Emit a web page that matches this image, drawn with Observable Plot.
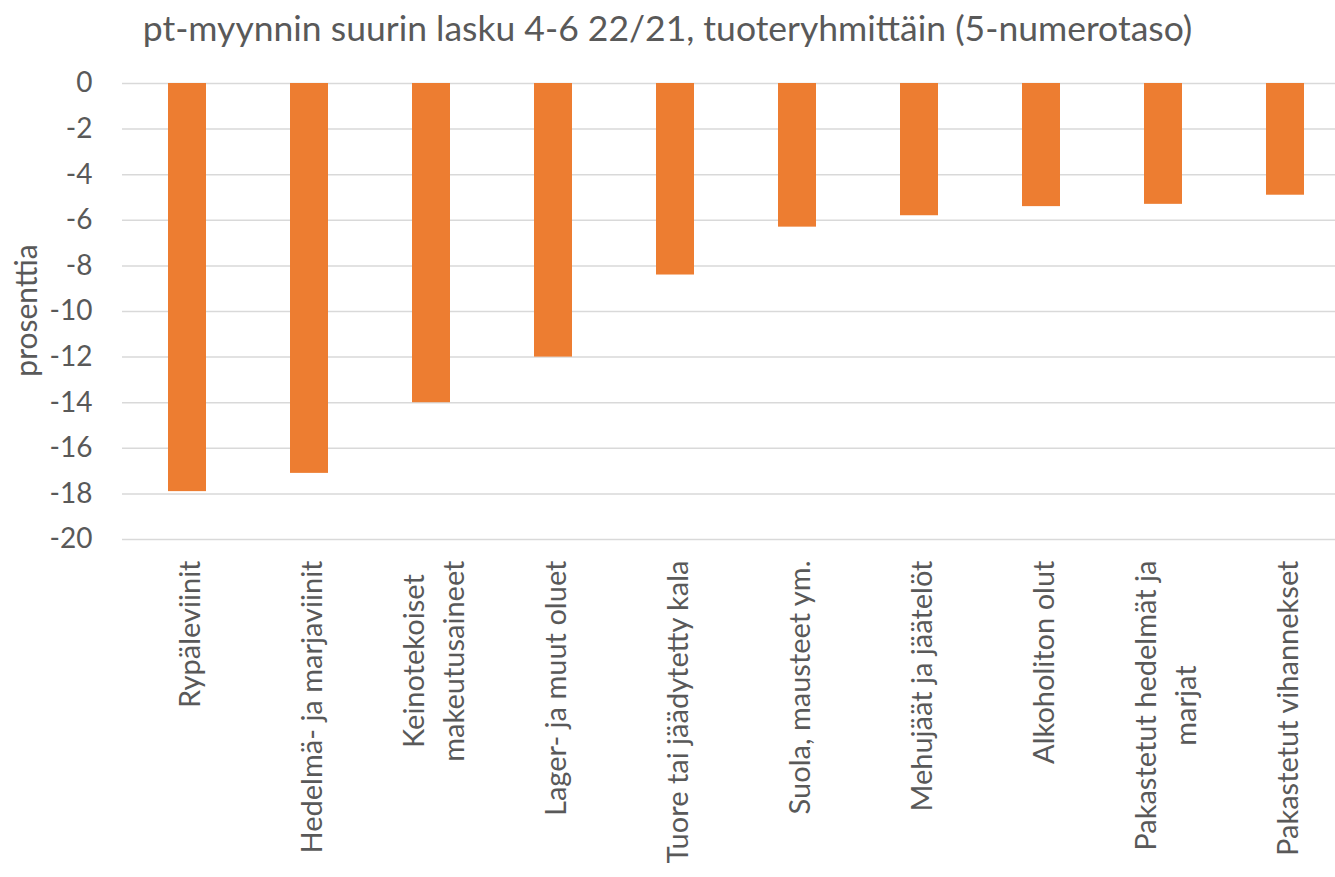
<!DOCTYPE html>
<html><head><meta charset="utf-8">
<script src="https://cdn.jsdelivr.net/npm/d3@7"></script>
<script src="https://cdn.jsdelivr.net/npm/@observablehq/plot@0.6"></script>
<style>
html,body{margin:0;padding:0;background:#fff;overflow:hidden;}
#title{height:56px;line-height:56px;text-align:center;font-family:Lato,sans-serif;font-size:35.5px;color:#595959;white-space:nowrap}
</style></head><body>
<div id="title">pt-myynnin suurin lasku 4-6 22/21, tuoteryhmittäin (5-numerotaso)</div>
<div id="chart"></div>
<script>
const categories = ["Rypäleviinit","Hedelmä- ja marjaviinit","Keinotekoiset makeutusaineet","Lager- ja muut oluet","Tuore tai jäädytetty kala","Suola, mausteet ym.","Mehujäät ja jäätelöt","Alkoholiton olut","Pakastetut hedelmät ja marjat","Pakastetut vihannekset"];
const tickLabels = ["Rypäleviinit","Hedelmä- ja marjaviinit","Keinotekoiset\nmakeutusaineet","Lager- ja muut oluet","Tuore tai jäädytetty kala","Suola, mausteet ym.","Mehujäät ja jäätelöt","Alkoholiton olut","Pakastetut hedelmät ja\nmarjat","Pakastetut vihannekset"];
const values = [-17.9,-17.1,-14.0,-12.0,-8.4,-6.3,-5.8,-5.4,-5.3,-4.9];
const yTicks = [0,-2,-4,-6,-8,-10,-12,-14,-16,-18,-20];
const yLabel = "prosenttia";

const data = categories.map((c,i)=>({category:c,label:tickLabels[i],value:values[i]}));
const chart = Plot.plot({
  width:1335, height:821, marginTop:27, marginBottom:338, marginLeft:122, marginRight:-15,
  style:{fontFamily:"Lato, sans-serif", fontSize:"26px", color:"#595959", background:"#fff", overflow:"hidden"},
  x:{domain:categories, paddingInner:0.686, paddingOuter:0.343, axis:null},
  y:{domain:[-20,0], axis:null},
  marks:[
    Plot.ruleY(yTicks,{stroke:"#d9d9d9", strokeWidth:1.5}),
    Plot.barY(data,{x:"category", y:"value", fill:"#ED7D31"}),
    Plot.axisY(yTicks,{tickSize:0, tickPadding:30, fontSize:28, fill:"#595959", label:null, tickFormat:d=>String(d)}),
    Plot.text(data,{x:"category", text:"label", frameAnchor:"bottom", dy:21, rotate:-90, textAnchor:"end", lineAnchor:"middle", lineHeight:1.36, fontSize:29, fill:"#595959"}),
    Plot.text([yLabel],{text:d=>d, frameAnchor:"left", dx:-95, dy:-1, rotate:-90, textAnchor:"middle", fontSize:30, fill:"#595959"})
  ]
});
document.getElementById("chart").append(chart);
chart.querySelectorAll("text").forEach(t=>{
  const spans = t.querySelectorAll("tspan");
  if (spans.length>1){
    const L = Math.max(...[...spans].map(s=>s.getComputedTextLength()));
    t.setAttribute("text-anchor","middle");
    spans.forEach(s=>s.setAttribute("x", -L/2));
  }
});
</script>
</body></html>
